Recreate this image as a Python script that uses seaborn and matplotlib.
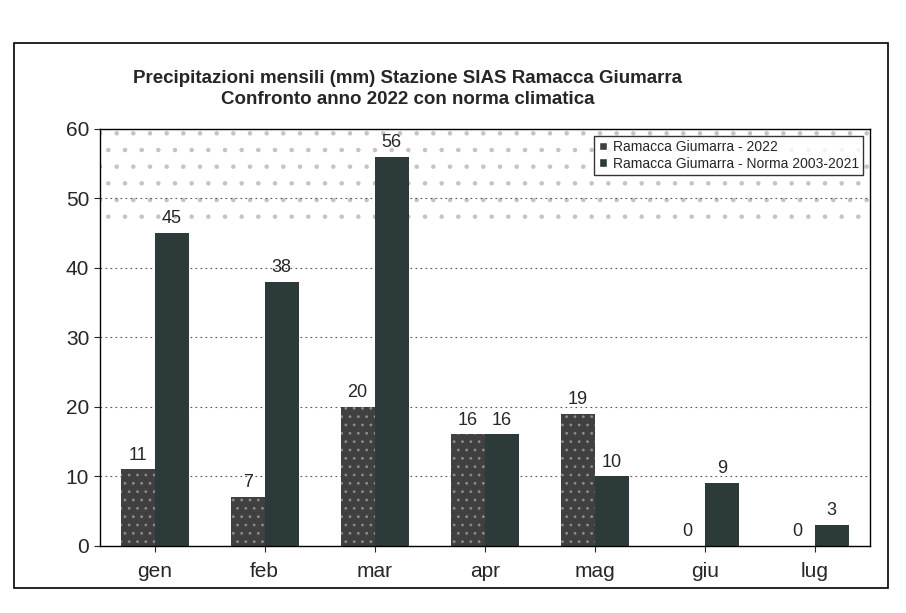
import numpy as np
import pandas as pd
import matplotlib
matplotlib.use('Agg')
import matplotlib.pyplot as plt
from matplotlib.patches import Rectangle
import seaborn as sns

# monthly rainfall (mm), Ramacca Giumarra station
months = ['gen', 'feb', 'mar', 'apr', 'mag', 'giu', 'lug']
rain_2022 = [11, 7, 20, 16, 19, 0, 0]
rain_norma = [45, 38, 56, 16, 10, 9, 3]
series = ['Ramacca Giumarra - 2022', 'Ramacca Giumarra - Norma 2003-2021']

df = pd.DataFrame({
    'mese': months * 2,
    'mm': rain_2022 + rain_norma,
    'serie': [series[0]] * len(months) + [series[1]] * len(months),
})

sns.set_style('white')
plt.rcParams['font.family'] = ['Liberation Sans', 'DejaVu Sans']
plt.rcParams['hatch.linewidth'] = 0.8

fig = plt.figure(figsize=(9.06, 6.13), dpi=100)
ax = fig.add_axes([0.11, 0.11, 0.85, 0.68])

# light stippled band in the upper part of the plot area
ax.axhspan(47, 60, facecolor='none', edgecolor='#c4c4c4', hatch='.', linewidth=0, zorder=0)

sns.barplot(data=df, x='mese', y='mm', hue='serie', palette=['#404040', '#2c3b39'],
            width=0.62, gap=0, saturation=1, ax=ax, zorder=2)

for cont in ax.containers:
    for bar in cont:
        bar.set_linewidth(0)

# speckled look for the 2022 bars
for bar in ax.containers[0]:
    bar.set_hatch('..')
    bar.set_edgecolor('#8c8c8c')

for cont in ax.containers:
    ax.bar_label(cont, labels=[str(int(v)) for v in cont.datavalues], padding=4, fontsize=13)

ax.set_ylim(0, 60)
ax.set_yticks(range(0, 61, 10))
ax.yaxis.grid(True, linestyle=(0, (1.5, 3)), color='#555555', linewidth=0.8)
ax.set_axisbelow(True)
ax.set_xlabel('')
ax.set_ylabel('')
ax.tick_params(axis='both', labelsize=15, length=4, left=True, bottom=True)
ax.tick_params(axis='x', pad=8)
for s in ax.spines.values():
    s.set_color('black')
    s.set_linewidth(1)

leg = ax.legend(loc='upper right', fontsize=10, frameon=True, fancybox=False,
                handlelength=0.6, handleheight=0.6, handletextpad=0.4,
                borderpad=0.3, labelspacing=0.2)
leg.get_frame().set_edgecolor('black')
leg.get_frame().set_linewidth(1)

fig.text(0.45, 0.855, 'Precipitazioni mensili (mm) Stazione SIAS Ramacca Giumarra\n'
         'Confronto anno 2022 con norma climatica',
         ha='center', va='center', fontsize=13.5, fontweight='bold', linespacing=1.35)

# outer chart frame
fig.patches.append(Rectangle((0.015, 0.04), 0.965, 0.89, transform=fig.transFigure,
                             fill=False, edgecolor='black', linewidth=1.2))

fig.savefig('out.png', dpi=100)
